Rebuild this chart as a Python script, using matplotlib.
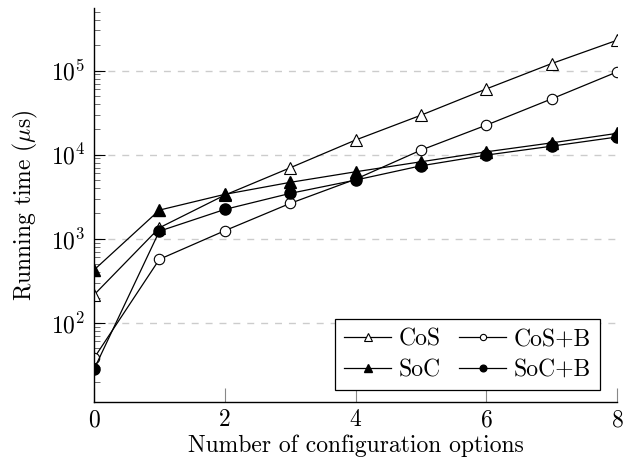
import numpy as np
import matplotlib
matplotlib.use('Agg')
import matplotlib.pyplot as plt

plt.rcParams['font.family'] = ['cmr10', 'DejaVu Serif']
plt.rcParams['mathtext.fontset'] = 'cm'
plt.rcParams['axes.unicode_minus'] = False
plt.rcParams['axes.formatter.use_mathtext'] = True

options = [0, 1, 2, 3, 4, 5, 6, 7, 8]
cos = [215, 1350, 3300, 6970, 14900, 29400, 60400, 121000, 229000]
cos_b = [38, 569, 1245, 2630, 5100, 11300, 22400, 46000, 96200]
soc = [425, 2190, 3370, 4680, 6250, 8220, 10800, 13800, 17900]
soc_b = [28, 1230, 2230, 3460, 4980, 7360, 9870, 12600, 16200]

fig = plt.figure(figsize=(6.23, 4.66), dpi=100)
ax = fig.add_axes([94 / 623, 63.7 / 466, 523 / 623, 394 / 466])

lw = 0.9
h1, = ax.plot(options, cos, color='black', lw=lw, marker='^', ms=8.5, mfc='white', mec='black', mew=0.8, label='CoS')
h2, = ax.plot(options, cos_b, color='black', lw=lw, marker='o', ms=7.5, mfc='white', mec='black', mew=0.8, label='CoS+B')
h3, = ax.plot(options, soc, color='black', lw=lw, marker='^', ms=8.5, mfc='black', mec='black', label='SoC')
h4, = ax.plot(options, soc_b, color='black', lw=lw, marker='o', ms=8, mfc='black', mec='black', label='SoC+B')

ax.set_yscale('log')
ax.set_xlim(0, 8)
ax.set_ylim(10 ** 1.055, 10 ** 5.74)
ax.set_xticks([0, 2, 4, 6, 8])

for s in ['top', 'right']:
    ax.spines[s].set_visible(False)
for s in ['left', 'bottom']:
    ax.spines[s].set_linewidth(1.0)

fs = 17
ax.tick_params(axis='both', which='major', direction='in', labelsize=fs, length=8, width=0.8, colors='black', pad=6)
ax.tick_params(axis='y', which='minor', direction='in', length=4, width=0.6, color='#555555')
ax.tick_params(axis='x', which='major', length=10, colors='#888888', labelcolor='black', pad=5)
ax.yaxis.grid(True, which='major', linestyle=(0, (5, 5)), color='#cccccc', lw=1.0)
ax.set_axisbelow(True)

ax.set_xlabel('Number of configuration options', fontsize=fs, labelpad=2)
ax.set_ylabel(r'Running time ($\mu$s)', fontsize=fs, labelpad=8)

leg = ax.legend([h1, h3, h2, h4], ['CoS', 'SoC', 'CoS+B', 'SoC+B'],
                loc='lower right', ncol=2, fontsize=fs, frameon=True, fancybox=False,
                edgecolor='black', framealpha=1, markerscale=0.6, handlelength=2.0,
                columnspacing=0.8, handletextpad=0.3, borderpad=0.4, labelspacing=0.35,
                borderaxespad=0, bbox_to_anchor=(0.968, 0.03))
leg.get_frame().set_linewidth(0.9)

fig.savefig('out.png', dpi=100)
